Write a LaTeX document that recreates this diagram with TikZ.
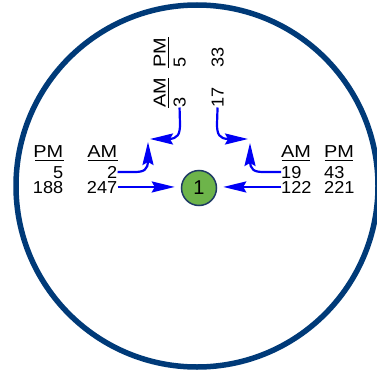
\documentclass[tikz,border=0pt]{standalone}
\usepackage{fontspec}
\setmainfont{Liberation Sans}
\newfontfamily\numfont[FakeStretch=1.05]{Liberation Sans}
\newfontfamily\hdrfont[FakeStretch=1.15]{Liberation Sans}
\usetikzlibrary{arrows.meta,calc}
\definecolor{ringblue}{HTML}{003A78}
\definecolor{flowblue}{HTML}{0000F5}
\definecolor{nodegreen}{HTML}{6DB44A}
\definecolor{nodeedge}{HTML}{1E3A64}

\begin{document}
\begin{tikzpicture}[x=1pt,y=-1pt,
  num/.style={inner sep=0pt, font=\numfont\fontsize{17.3}{19}\selectfont},
  hdr/.style={inner sep=0pt, font=\hdrfont\fontsize{17.3}{19}\selectfont},
  fracline/.style={line width=1.3pt},
  flow/.style={draw=flowblue, line width=2.2pt,
    -{Stealth[length=23pt,width=11pt,inset=3pt]}},
  intersection/.style={circle, draw=nodeedge, line width=1.5pt, fill=nodegreen,
    minimum size=35pt, inner sep=0pt, font=\fontsize{20}{22}\selectfont},
]
\useasboundingbox (0,0) rectangle (377,369);
\clip (0,0) rectangle (377,369);

% outer ring
\draw[ringblue, line width=5.5pt] (197,186) circle[radius=181];

% intersection
\node[intersection] (one) at (199,188) {1};

% west approach (right-aligned)
\node[hdr, anchor=base east] (wpm) at (63.5,157) {PM};
\draw[fracline] (35,160.5) -- (63.5,160.5);
\node[num, anchor=base east] (wpm5) at (63.5,178) {5};
\node[num, anchor=base east] (wpm188) at (63.5,193) {188};
\node[hdr, anchor=base east] (wam) at (117.5,157) {AM};
\draw[fracline] (88,160.5) -- (117.5,160.5);
\node[num, anchor=base east] (wam2) at (117.5,178) {2};
\node[num, anchor=base east] (wam247) at (117.5,193) {247};

% east approach (left-aligned)
\node[hdr, anchor=base west] (eam) at (281,157) {AM};
\draw[fracline] (281.5,160.5) -- (310,160.5);
\node[num, anchor=base west] (eam19) at (281,178) {19};
\node[num, anchor=base west] (eam122) at (281,193) {122};
\node[hdr, anchor=base west] (epm) at (324,157) {PM};
\draw[fracline] (324.5,160.5) -- (352.5,160.5);
\node[num, anchor=base west] (epm43) at (324,178) {43};
\node[num, anchor=base west] (epm221) at (324,193) {221};

% north approach (rotated)
\node[hdr, rotate=90, anchor=base west] (nam) at (165.5,107.5) {AM};
\draw[fracline] (168.5,107.5) -- (168.5,78);
\node[num, rotate=90, anchor=base west] (nam3) at (185.5,107.5) {3};
\node[num, rotate=90, anchor=base west] (nam17) at (223.5,107.5) {17};
\node[hdr, rotate=90, anchor=base west] (npm) at (165.5,67.5) {PM};
\draw[fracline] (168.5,67.5) -- (168.5,37);
\node[num, rotate=90, anchor=base west] (npm5) at (185.5,67.5) {5};
\node[num, rotate=90, anchor=base west] (npm33) at (223.5,67.5) {33};

% arrow tips of the turning movements
\coordinate (tipWU) at (148,142);
\coordinate (tipNL) at (150,139);
\coordinate (tipNR) at (248,139);
\coordinate (tipEU) at (250,143);

% through movements
\draw[flow, shorten >=6pt] (wam247.east) -- (wam247.east -| one.west);
\draw[flow, shorten >=6pt] (eam122.west) -- (eam122.west -| one.east);

% turning movements
\draw[flow] (wam2.east) -- (134,172) .. controls (144,172) and (148,170) .. (148,160) -- (tipWU);
\draw[flow] (nam3.west) -- (180,124) .. controls (180,134) and (178,139) .. (168,139) -- (tipNL);
\draw[flow] (nam17.west) -- (217,124) .. controls (217,134) and (219,139) .. (229,139) -- (tipNR);
\draw[flow] (eam19.west) -- (264,172) .. controls (254,172) and (250,170) .. (250,160) -- (tipEU);
\end{tikzpicture}
\end{document}
